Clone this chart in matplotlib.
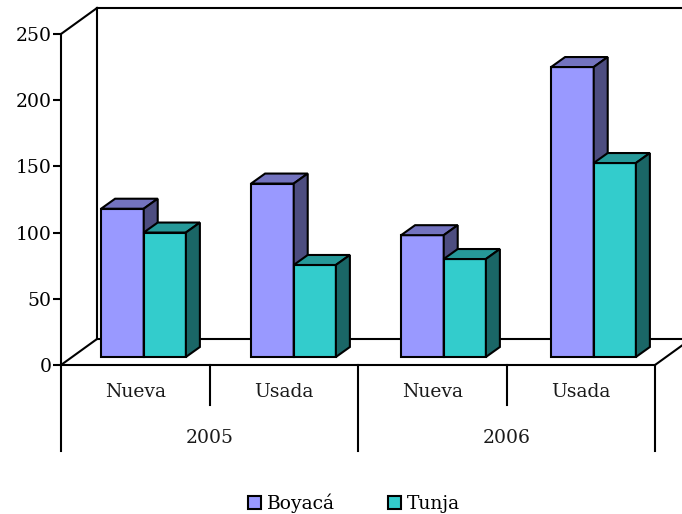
import matplotlib
matplotlib.use("Agg")
import matplotlib.pyplot as plt
from matplotlib.patches import Polygon, Patch

plt.rcParams['font.family'] = ['DejaVu Serif']

groups = ['2005', '2006']
subgroups = ['Nueva', 'Usada', 'Nueva', 'Usada']
y_ticks = [0, 50, 100, 150, 200, 250]
series_names = ['Boyacá', 'Tunja']
boyaca = [112, 131, 92, 219]
tunja = [94, 69.5, 74, 146.5]

# front, top, side
boyaca_colors = ['#9999FF', '#7373BF', '#4D4D80']
tunja_colors = ['#33CCCC', '#269999', '#1A6666']

W, H = 682, 514
x0, x1 = 61, 655
y0, y_top = 365, 34
lw = 1.5
fs = 13.5

fig = plt.figure(figsize=(W / 100, H / 100), dpi=100)
ax = fig.add_axes([x0 / W, (H - y0) / H, (x1 - x0) / W, (y0 - y_top) / H])
ax.set_xlim(0, 4)
ax.set_ylim(0, 250)
ax.patch.set_visible(False)

# one pixel in data units, for the fake 3d depth
px = 4 / (x1 - x0)
py = 250 / (y0 - y_top)


def line(xs, ys, **kw):
    ax.plot(xs, ys, color='black', lw=lw, clip_on=False, solid_capstyle='projecting', zorder=1, **kw)


def bar3d(left, width, value, colors):
    base = 8 * py
    dx = 14 * px
    dy = 10 * py
    top = base + value
    right = left + width
    ax.add_patch(Polygon([(left, base), (right, base), (right, top), (left, top)], fc=colors[0], ec='black', lw=lw, zorder=3, clip_on=False, joinstyle='miter'))
    ax.add_patch(Polygon([(left, top), (right, top), (right + dx, top + dy), (left + dx, top + dy)], fc=colors[1], ec='black', lw=lw, zorder=3, clip_on=False, joinstyle='miter'))
    ax.add_patch(Polygon([(right, base), (right + dx, base + dy), (right + dx, top + dy), (right, top)], fc=colors[2], ec='black', lw=lw, zorder=3, clip_on=False, joinstyle='miter'))


# back wall and floor
depth_x = 36 * px
depth_y = 26 * py
line([0, depth_x], [250, 250 + depth_y])
line([depth_x, depth_x], [depth_y, 250 + depth_y])
line([depth_x, 4 + depth_x], [250 + depth_y, 250 + depth_y])
line([depth_x, 4 + depth_x], [depth_y, depth_y])
line([0, depth_x], [0, depth_y])
line([4, 4 + depth_x], [0, depth_y])

# bars
pitch = 150 / 148.5
for i in range(4):
    left = 0.27 + i * pitch
    bar3d(left, 0.287, boyaca[i], boyaca_colors)
    bar3d(left + 0.287, 0.284, tunja[i], tunja_colors)

# axes
for s in ['top', 'right', 'bottom']:
    ax.spines[s].set_visible(False)
ax.spines['left'].set_linewidth(lw)
ax.set_xticks([])
ax.set_yticks(y_ticks)
ax.tick_params(axis='y', length=6, width=lw, labelsize=fs, pad=1, colors='black')
line([0, 4], [0, 0])

# two level category axis
for i in range(5):
    low = 86 if i % 2 == 0 else 40
    line([i, i], [0, -low * py])
for i, name in enumerate(subgroups):
    ax.text(i + 0.5, -27 * py, name, ha='center', va='center', fontsize=fs, color='#1a1a1a')
for i, name in enumerate(groups):
    ax.text(2 * i + 1, -73 * py, name, ha='center', va='center', fontsize=fs, color='#1a1a1a')

handles = [Patch(fc=boyaca_colors[0], ec='black', lw=lw), Patch(fc=tunja_colors[0], ec='black', lw=lw)]
fig.legend(handles, series_names, loc='center', bbox_to_anchor=(354 / W, 1 - 503 / H), ncol=2, frameon=False,
           fontsize=fs, handlelength=0.7, handleheight=0.7, handletextpad=0.28, columnspacing=2.85)

fig.savefig('out.png', dpi=100)
